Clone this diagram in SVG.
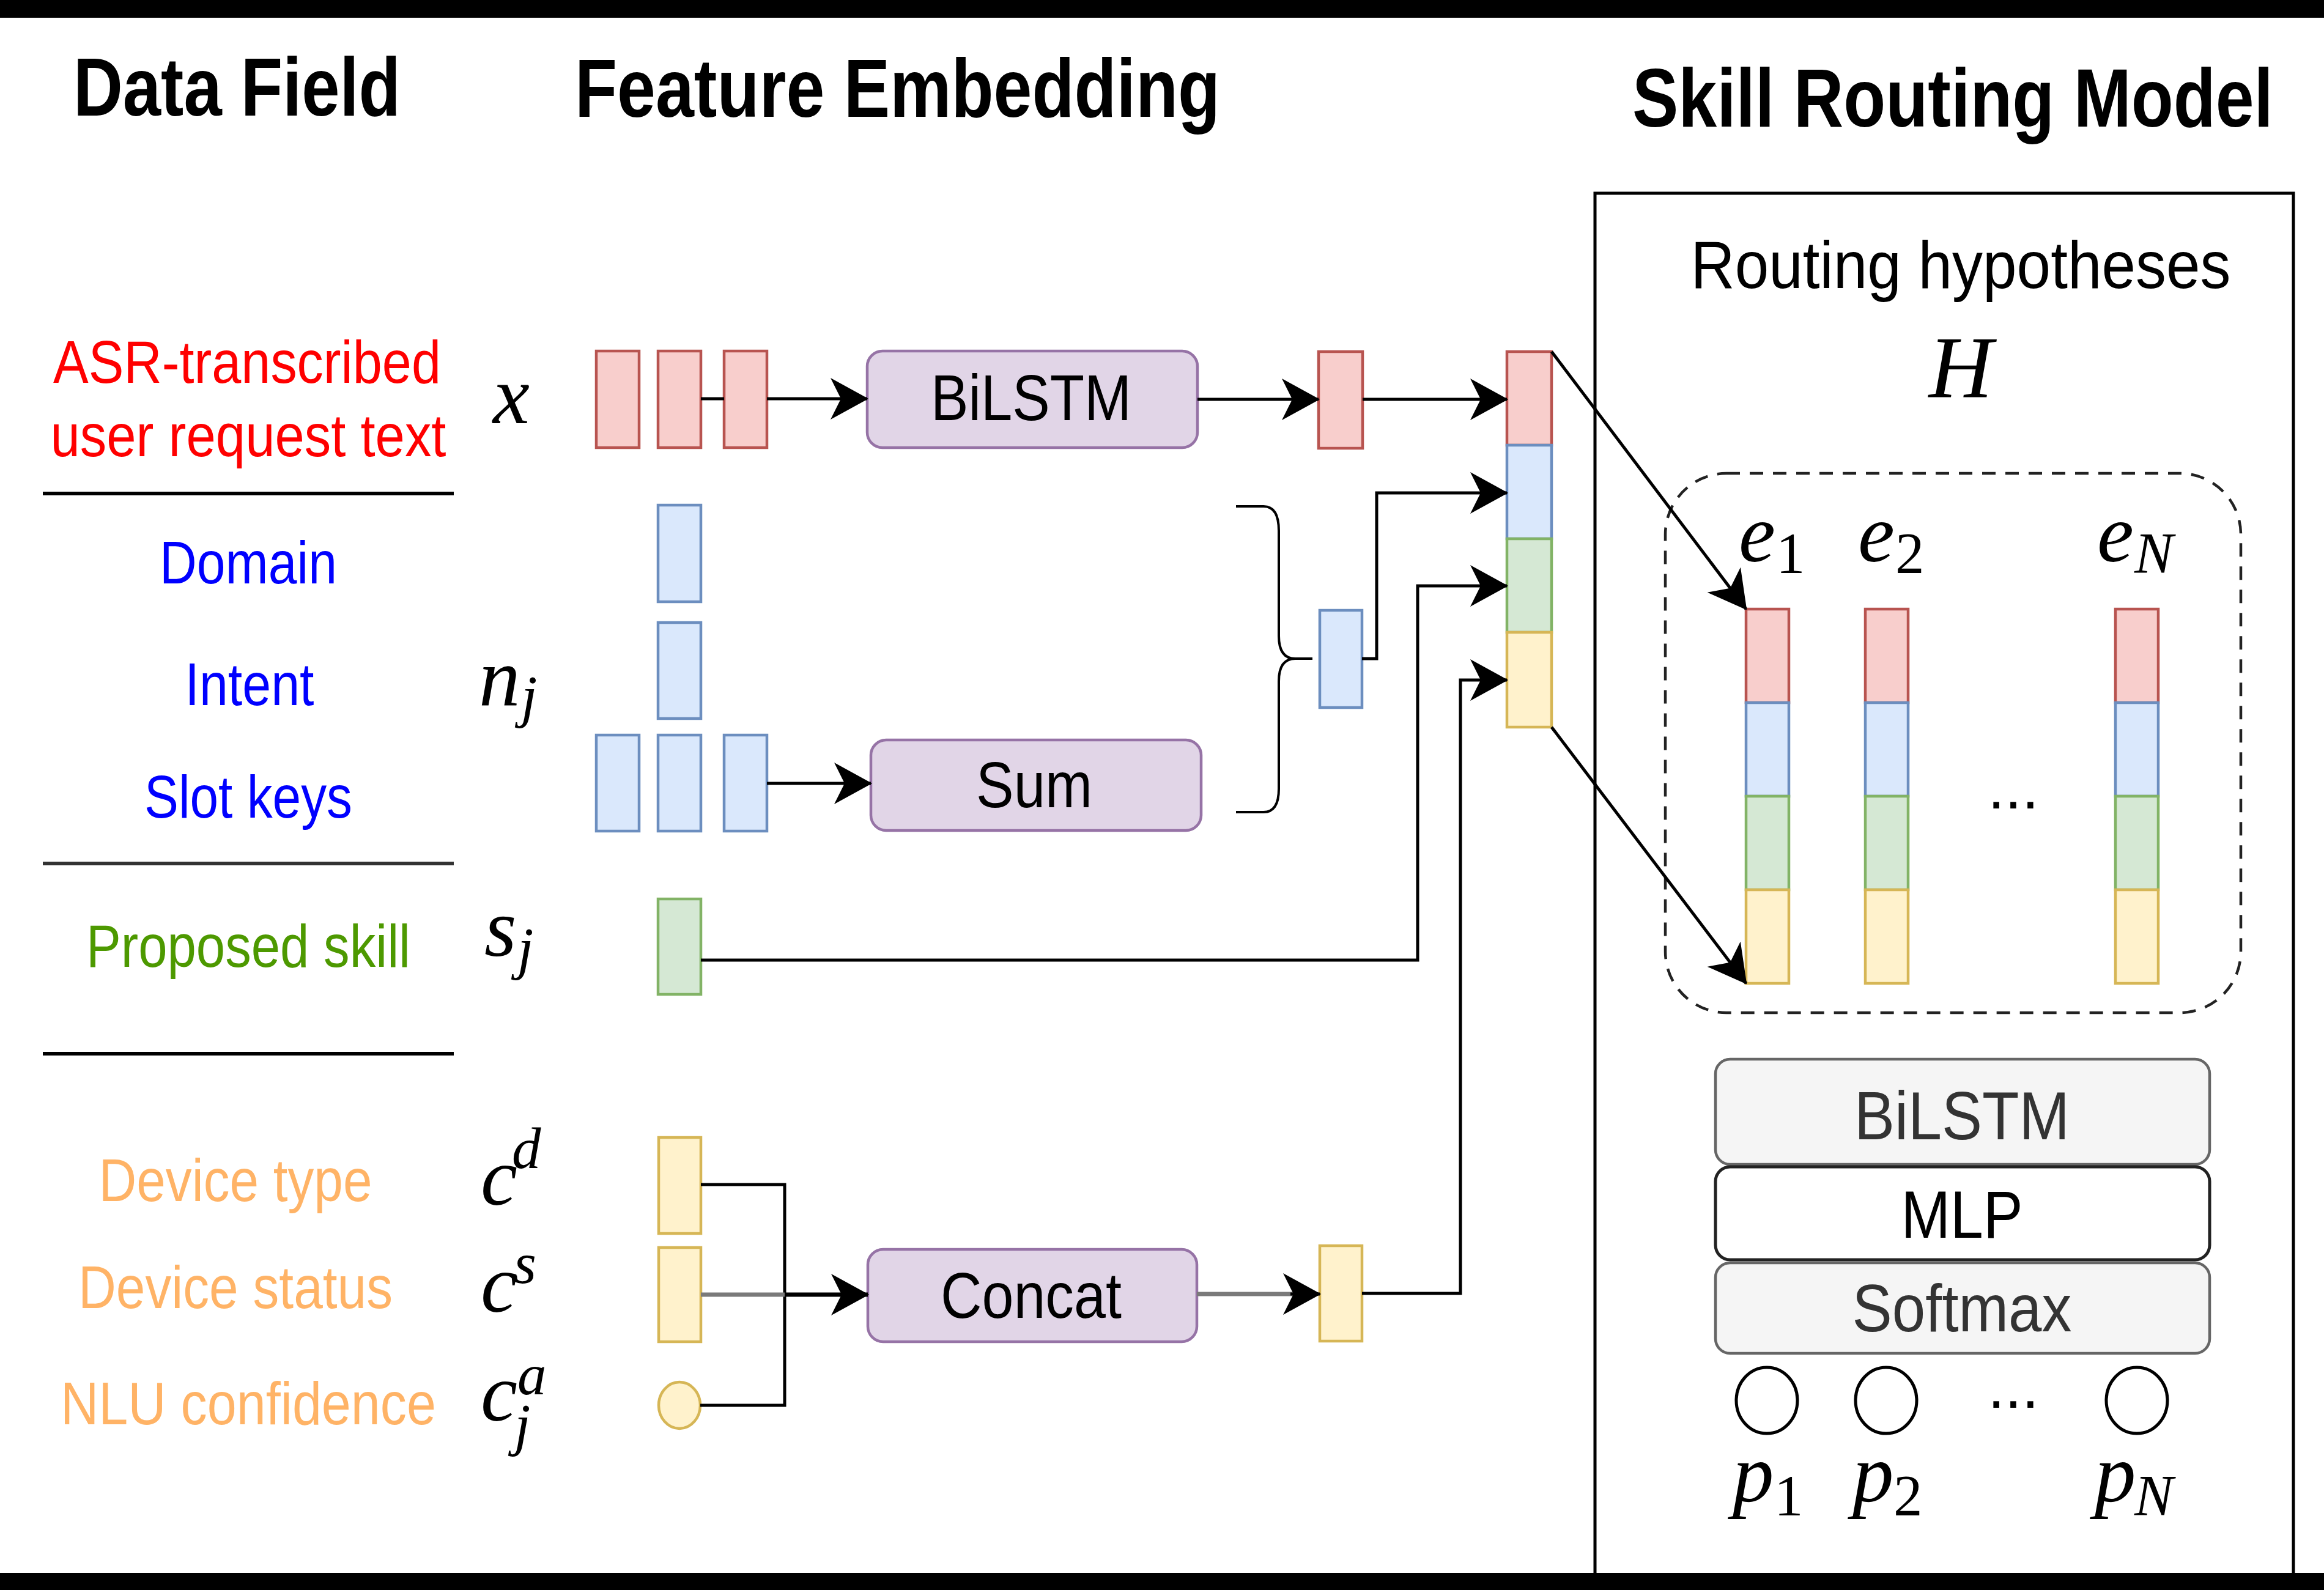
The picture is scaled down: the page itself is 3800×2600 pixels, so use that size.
<svg xmlns="http://www.w3.org/2000/svg" width="3800" height="2600" viewBox="0 0 3800 2600">
<style>
.cell{stroke-width:4.5}
.r{fill:#f8cecc;stroke:#b85450}
.b{fill:#dae8fc;stroke:#6c8ebf}
.g{fill:#d5e8d4;stroke:#82b366}
.y{fill:#fff2cc;stroke:#d6b656}
.pu{fill:#e1d5e7;stroke:#9673a6;stroke-width:4.5}
.gr{fill:#f5f5f5;stroke:#666;stroke-width:4.5}
.sans{font-family:"Liberation Sans",Arial,sans-serif}
.title{font-family:"Liberation Sans",Arial,sans-serif;font-weight:bold;font-size:136px;fill:#000}
.lab{font-family:"Liberation Sans",Arial,sans-serif;font-size:98px;text-anchor:middle}
.box{font-family:"Liberation Sans",Arial,sans-serif;font-size:105px;text-anchor:middle;fill:#000}
.m{font-family:"Liberation Serif","Times New Roman",serif;font-style:italic;font-size:135px;fill:#000}
.ms{font-family:"Liberation Serif","Times New Roman",serif;font-style:italic;font-size:95px}
.mr{font-family:"Liberation Serif","Times New Roman",serif;font-style:normal;font-size:95px}
.conn{fill:none;stroke:#000;stroke-width:5}
.grayc{fill:none;stroke:#7a7a7a;stroke-width:7}
.div{stroke:#000;stroke-width:6}
</style>
<defs>
<marker id="arr" markerUnits="userSpaceOnUse" markerWidth="62" markerHeight="68" viewBox="0 0 62 68" refX="60" refY="34" orient="auto">
<path d="M0,0 L62,34 L0,68 L17,34 Z" fill="#000"/>
</marker>
</defs>
<rect x="0" y="0" width="3800" height="2600" fill="#fff"/>

<g id="titles">
<text class="title" x="120" y="189" textLength="535" lengthAdjust="spacingAndGlyphs">Data Field</text>
<text class="title" x="940" y="191" textLength="1055" lengthAdjust="spacingAndGlyphs">Feature Embedding</text>
<text class="title" x="2669" y="207" textLength="1048" lengthAdjust="spacingAndGlyphs">Skill Routing Model</text>
</g>

<g id="panel">
<rect x="2608" y="316" width="1142" height="2300" fill="none" stroke="#000" stroke-width="5"/>
<text class="sans" x="3206" y="471" font-size="109" text-anchor="middle" textLength="883" lengthAdjust="spacingAndGlyphs">Routing hypotheses</text>
<text class="m" x="3206" y="649" text-anchor="middle" style="font-size:145px">H</text>
</g>

<g id="data-field">
<text class="lab" x="404" y="626" fill="#ff0000" textLength="634" lengthAdjust="spacingAndGlyphs">ASR-transcribed</text>
<text class="lab" x="406" y="746" fill="#ff0000" textLength="647" lengthAdjust="spacingAndGlyphs">user request text</text>
<line class="div" x1="70" y1="807" x2="742" y2="807"/>
<text class="lab" x="406" y="954" fill="#0000ff" textLength="290" lengthAdjust="spacingAndGlyphs">Domain</text>
<text class="lab" x="408" y="1153" fill="#0000ff" textLength="211" lengthAdjust="spacingAndGlyphs">Intent</text>
<text class="lab" x="406" y="1337" fill="#0000ff" textLength="340" lengthAdjust="spacingAndGlyphs">Slot keys</text>
<line class="div" x1="70" y1="1412" x2="742" y2="1412" style="stroke:#333"/>
<text class="lab" x="406" y="1581" fill="#4d9900" textLength="530" lengthAdjust="spacingAndGlyphs">Proposed skill</text>
<line class="div" x1="70" y1="1723" x2="742" y2="1723"/>
<text class="lab" x="385" y="1964" fill="#ffb366" textLength="447" lengthAdjust="spacingAndGlyphs">Device type</text>
<text class="lab" x="385" y="2139" fill="#ffb366" textLength="514" lengthAdjust="spacingAndGlyphs">Device status</text>
<text class="lab" x="406" y="2329" fill="#ffb366" textLength="614" lengthAdjust="spacingAndGlyphs">NLU confidence</text>
</g>

<g id="symbols">
<text class="m" x="806" y="692">x</text>
<text class="m" x="783" y="1153">n<tspan class="ms" x="852" y="1171">j</tspan></text>
<text class="m" x="792" y="1563">s<tspan class="ms" x="846" y="1583">j</tspan></text>
<text class="m" x="786" y="1970">c<tspan class="ms" x="837" y="1910">d</tspan></text>
<text class="m" x="786" y="2145">c<tspan class="ms" x="840" y="2098">s</tspan></text>
<text class="m" x="786" y="2323">c<tspan class="ms" x="846" y="2280">a</tspan><tspan class="ms" x="841" y="2362">j</tspan></text>
</g>

<g id="text-tokens">
<rect class="cell r" x="975" y="574" width="70" height="158"/>
<rect class="cell r" x="1076" y="574" width="70" height="158"/>
<rect class="cell r" x="1184" y="574" width="70" height="158"/>
</g>
<g id="nlu-tokens">
<rect class="cell b" x="1076" y="826" width="70" height="158"/>
<rect class="cell b" x="1076" y="1018" width="70" height="157"/>
<rect class="cell b" x="975" y="1202" width="70" height="157"/>
<rect class="cell b" x="1076" y="1202" width="70" height="157"/>
<rect class="cell b" x="1184" y="1202" width="70" height="157"/>
</g>
<g id="skill-token">
<rect class="cell g" x="1076" y="1470" width="70" height="156"/>
</g>
<g id="context-tokens">
<rect class="cell y" x="1077" y="1860" width="69" height="157"/>
<rect class="cell y" x="1077" y="2040" width="69" height="154"/>
<ellipse class="cell y" cx="1111" cy="2298" rx="34" ry="38"/>
</g>

<g id="bilstm-enc">
<rect class="pu" x="1418" y="574" width="540" height="158" rx="25"/>
<text class="box" x="1686" y="687" textLength="328" lengthAdjust="spacingAndGlyphs">BiLSTM</text>
</g>
<g id="sum">
<rect class="pu" x="1424" y="1210" width="540" height="148" rx="25"/>
<text class="box" x="1691" y="1320" textLength="190" lengthAdjust="spacingAndGlyphs">Sum</text>
</g>
<g id="concat">
<rect class="pu" x="1419" y="2043" width="538" height="151" rx="25"/>
<text class="box" x="1686" y="2155" textLength="296" lengthAdjust="spacingAndGlyphs">Concat</text>
</g>

<g id="emb-text"><rect class="cell r" x="2156" y="575" width="72" height="158"/></g>
<g id="emb-nlu"><rect class="cell b" x="2158" y="998" width="69" height="159"/></g>
<g id="emb-ctx"><rect class="cell y" x="2158" y="2037" width="69" height="156"/></g>

<g id="brace">
<path d="M2021,828 L2066,828 Q2091,828 2091,868 L2091,1040 Q2091,1077 2118,1077 L2146,1077 M2118,1077 Q2091,1077 2091,1114 L2091,1290 Q2091,1328 2066,1328 L2021,1328" fill="none" stroke="#000" stroke-width="4"/>
</g>

<g id="hyp-stack">
<rect class="cell r" x="2464" y="575" width="73" height="153"/>
<rect class="cell b" x="2464" y="728" width="73" height="153"/>
<rect class="cell g" x="2464" y="881" width="73" height="153"/>
<rect class="cell y" x="2464" y="1034" width="73" height="155"/>
</g>

<g id="hypotheses">
<rect x="2723" y="774" width="941" height="882" rx="100" fill="none" stroke="#222" stroke-width="4.5" stroke-dasharray="22 16"/>
<g id="e1">
<rect class="cell r" x="2855" y="996" width="70" height="153"/>
<rect class="cell b" x="2855" y="1149" width="70" height="153"/>
<rect class="cell g" x="2855" y="1302" width="70" height="153"/>
<rect class="cell y" x="2855" y="1455" width="70" height="153"/>
<text class="m" x="2843" y="918">e<tspan class="mr" x="2904" y="937">1</tspan></text>
</g>
<g id="e2">
<rect class="cell r" x="3050" y="996" width="70" height="153"/>
<rect class="cell b" x="3050" y="1149" width="70" height="153"/>
<rect class="cell g" x="3050" y="1302" width="70" height="153"/>
<rect class="cell y" x="3050" y="1455" width="70" height="153"/>
<text class="m" x="3038" y="918">e<tspan class="mr" x="3099" y="937">2</tspan></text>
</g>
<g id="eN">
<rect class="cell r" x="3459" y="996" width="70" height="153"/>
<rect class="cell b" x="3459" y="1149" width="70" height="153"/>
<rect class="cell g" x="3459" y="1302" width="70" height="153"/>
<rect class="cell y" x="3459" y="1455" width="70" height="153"/>
<text class="m" x="3429" y="918">e<tspan class="ms" x="3490" y="937">N</tspan></text>
</g>
<text class="sans" x="3292" y="1322" font-size="100" text-anchor="middle">...</text>
</g>

<g id="router">
<g id="bilstm-router">
<rect class="gr" x="2805" y="1732" width="808" height="172" rx="24"/>
<text class="sans" x="3208" y="1863" font-size="112" text-anchor="middle" fill="#333" textLength="352" lengthAdjust="spacingAndGlyphs">BiLSTM</text>
</g>
<g id="mlp">
<rect x="2805" y="1908" width="808" height="152" rx="24" fill="#fff" stroke="#222" stroke-width="5"/>
<text class="sans" x="3208" y="2024" font-size="110" text-anchor="middle" fill="#000" textLength="199" lengthAdjust="spacingAndGlyphs">MLP</text>
</g>
<g id="softmax">
<rect class="gr" x="2805" y="2065" width="808" height="148" rx="24"/>
<text class="sans" x="3208" y="2177" font-size="110" text-anchor="middle" fill="#333" textLength="359" lengthAdjust="spacingAndGlyphs">Softmax</text>
</g>
</g>

<g id="outputs">
<ellipse cx="2889" cy="2290" rx="50" ry="54" fill="#fff" stroke="#000" stroke-width="5"/>
<ellipse cx="3084" cy="2290" rx="50" ry="54" fill="#fff" stroke="#000" stroke-width="5"/>
<ellipse cx="3494" cy="2290" rx="50" ry="54" fill="#fff" stroke="#000" stroke-width="5"/>
<text class="sans" x="3292" y="2302" font-size="100" text-anchor="middle">...</text>
<text class="m" x="2833" y="2455">p<tspan class="mr" x="2901" y="2478">1</tspan></text>
<text class="m" x="3029" y="2455">p<tspan class="mr" x="3096" y="2478">2</tspan></text>
<text class="m" x="3425" y="2455">p<tspan class="ms" x="3490" y="2478">N</tspan></text>
</g>

<g id="connectors">
<line class="conn" x1="1146" y1="652" x2="1184" y2="652"/>
<line class="conn" x1="1254" y1="652" x2="1418" y2="652" marker-end="url(#arr)"/>
<line class="conn" x1="1958" y1="653" x2="2156" y2="653" marker-end="url(#arr)"/>
<line class="conn" x1="2228" y1="653" x2="2464" y2="653" marker-end="url(#arr)"/>
<polyline class="conn" points="2227,1077 2251,1077 2251,806 2464,806" marker-end="url(#arr)"/>
<polyline class="conn" points="1146,1570 2318,1570 2318,958 2464,958" marker-end="url(#arr)"/>
<polyline class="conn" points="2227,2115 2388,2115 2388,1112 2464,1112" marker-end="url(#arr)"/>
<line class="conn" x1="1254" y1="1281" x2="1424" y2="1281" marker-end="url(#arr)"/>
<polyline class="conn" points="1146,1937 1283,1937 1283,2298 1145,2298"/>
<line class="grayc" x1="1146" y1="2117" x2="1283" y2="2117"/>
<line class="conn" x1="1283" y1="2117" x2="1419" y2="2117" style="stroke-width:7" marker-end="url(#arr)"/>
<line class="grayc" x1="1957" y1="2116" x2="2120" y2="2116"/>
<line class="conn" x1="2110" y1="2116" x2="2158" y2="2116" marker-end="url(#arr)"/>
<line class="conn" x1="2537" y1="575" x2="2855" y2="996" marker-end="url(#arr)"/>
<line class="conn" x1="2537" y1="1189" x2="2855" y2="1608" marker-end="url(#arr)"/>
</g>

<g id="frame">
<rect x="0" y="0" width="3800" height="29" fill="#000"/>
<rect x="0" y="2572" width="3800" height="28" fill="#000"/>
</g>
</svg>
